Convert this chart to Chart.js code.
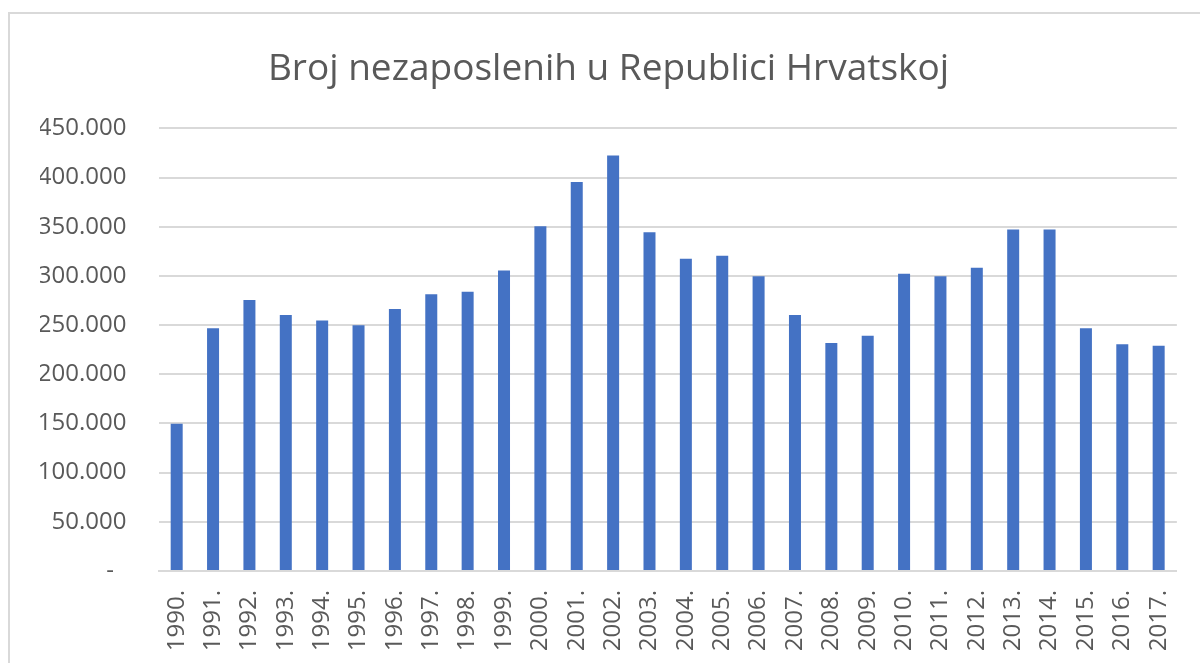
<!DOCTYPE html>
<html>
<head>
<meta charset="utf-8">
<title>Broj nezaposlenih u Republici Hrvatskoj</title>
<script src="https://cdn.jsdelivr.net/npm/chart.js@4/dist/chart.umd.min.js"></script>
<style>
    html, body { margin: 0; padding: 0; background: #ffffff; overflow: hidden; }
    #frame {
        position: absolute;
        left: 8px;
        top: 12px;
        width: 1205px;
        height: 660px;
        border: 2px solid #d9d9d9;
        background: #ffffff;
    }
    #wrap { position: absolute; left: 0px; top: 0px; width: 1197px; height: 649px; }
</style>
</head>
<body>
<div id="frame">
    <div id="wrap"><canvas id="chart"></canvas></div>
</div>
<script>
const years = ['1990.', '1991.', '1992.', '1993.', '1994.', '1995.', '1996.', '1997.', '1998.', '1999.',
    '2000.', '2001.', '2002.', '2003.', '2004.', '2005.', '2006.', '2007.', '2008.', '2009.',
    '2010.', '2011.', '2012.', '2013.', '2014.', '2015.', '2016.', '2017.'];

// broj nezaposlenih (ocitano sa slike)
const unemployed = [149600, 246800, 275600, 260300, 254600, 249800, 266400, 281300, 284000, 305400,
    350400, 395400, 422500, 344300, 317500, 320600, 299600, 260300, 231900, 239300,
    302300, 299600, 308400, 347300, 347300, 246800, 230500, 228900];

const yMax = 450000;
const yStep = 50000;

function formatThousands(v) {
    if (v === 0) return '-  ';
    return String(v).replace(/\B(?=(\d{3})+(?!\d))/g, '.');
}

const textColor = '#595959';
const gridColor = '#d9d9d9';

new Chart(document.getElementById('chart'), {
    type: 'bar',
    data: {
        labels: years,
        datasets: [{
            label: 'Broj nezaposlenih',
            data: unemployed,
            backgroundColor: '#4472C4',
            borderWidth: 0,
            barPercentage: 0.33,
            categoryPercentage: 1.0
        }]
    },
    options: {
        responsive: true,
        maintainAspectRatio: false,
        animation: false,
        layout: { padding: { left: 30, right: 30, top: 0, bottom: 0 } },
        plugins: {
            legend: { display: false },
            tooltip: { enabled: false },
            title: {
                display: true,
                text: 'Broj nezaposlenih u Republici Hrvatskoj',
                color: textColor,
                font: { family: '"Open Sans", sans-serif', size: 37, weight: 'normal' },
                padding: { top: 33, bottom: 37 }
            }
        },
        scales: {
            x: {
                grid: { display: false, drawTicks: false },
                border: { display: true, color: gridColor, width: 2 },
                ticks: {
                    color: textColor,
                    font: { family: '"Open Sans", sans-serif', size: 24 },
                    minRotation: 90,
                    maxRotation: 90,
                    autoSkip: false,
                    padding: 19
                },
                afterFit: function(scale) { scale.height = 92; }
            },
            y: {
                min: 0,
                max: yMax,
                grid: { color: gridColor, lineWidth: 2, drawTicks: false },
                border: { display: false },
                ticks: {
                    stepSize: yStep,
                    color: textColor,
                    font: { family: '"Open Sans", sans-serif', size: 24 },
                    padding: 32,
                    callback: function(value) { return formatThousands(value); }
                },
                afterFit: function(scale) { scale.width = 118.5; }
            }
        }
    }
});
</script>
</body>
</html>
